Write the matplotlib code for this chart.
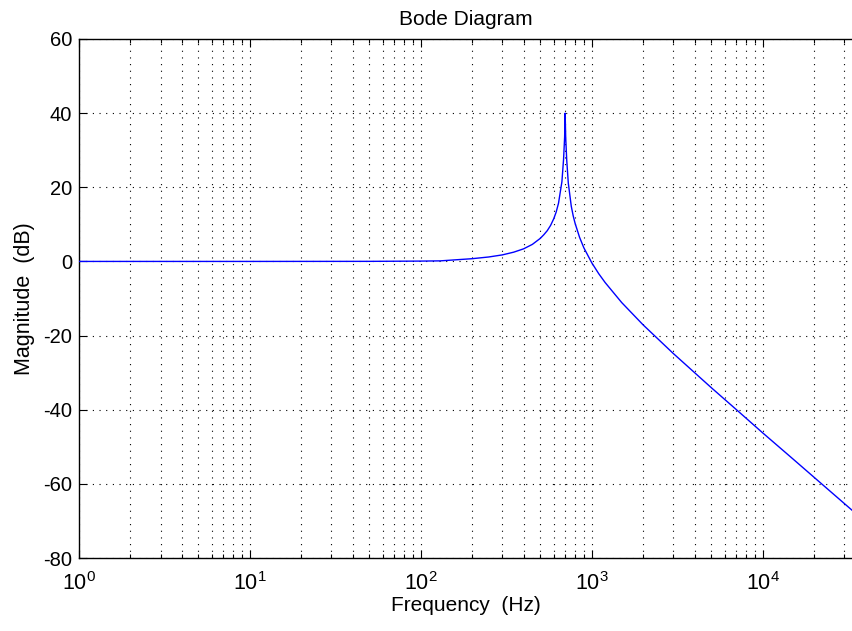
"""
Bode magnitude plot of a lightly damped second-order low-pass response.
"""

import matplotlib
matplotlib.use("Agg")
import matplotlib.pyplot as plt
from matplotlib.ticker import LogLocator, FixedLocator

plt.rcParams["font.family"] = ["Liberation Sans", "DejaVu Sans"]
plt.rcParams["mathtext.fontset"] = "custom"
plt.rcParams["mathtext.rm"] = "Liberation Sans"
plt.rcParams["mathtext.it"] = "Liberation Sans"
plt.rcParams["mathtext.default"] = "regular"
plt.rcParams["axes.unicode_minus"] = False

# Magnitude response samples (Hz, dB)
freq_hz = [1, 10, 50, 100, 130, 200, 250, 300, 350, 400, 450, 500, 525, 550,
           575, 600, 620, 640, 670, 685, 695, 700, 705, 715, 730, 760, 780,
           800, 850, 900, 1000, 1100, 1200, 1500, 2000, 3000, 5000, 7000,
           10000, 15000, 20000, 33400]
mag_db = [0, 0, 0.02, 0.09, 0.15, 0.74, 1.2, 1.76, 2.5, 3.4, 4.6, 6.2, 7.2,
          8.3, 9.7, 11.5, 13.3, 15.7, 21.5, 27.5, 33.5, 40, 33.5, 27.3, 21.2,
          14.9, 12.3, 10.3, 6.5, 3.7, -0.3, -3.3, -5.7, -11.1, -17.1, -24.8,
          -34.0, -39.9, -46.2, -53.2, -58.2, -67.1]

y_ticks = [-80, -60, -40, -20, 0, 20, 40, 60]
x_limits = (1, 3.34e4)

TICK_SIZE = 14.5
TEXT_SIZE = 15
W, H = 852, 631

fig = plt.figure(figsize=(W / 100, H / 100), dpi=100)
ax = fig.add_axes([79 / W, (H - 558) / H, (852 - 79) / W, (558 - 39) / H])

ax.semilogx(freq_hz, mag_db, color="#0000ff", linewidth=1.0, zorder=3)

ax.set_xlim(*x_limits)
ax.set_ylim(y_ticks[0], y_ticks[-1])
ax.yaxis.set_major_locator(FixedLocator(y_ticks))
ax.xaxis.set_major_locator(LogLocator(base=10, numticks=10))
ax.xaxis.set_minor_locator(LogLocator(base=10, subs=range(2, 10), numticks=20))

grid_style = dict(color="black", linestyle=(0, (1, 5)), linewidth=0.8)
ax.grid(True, which="major", axis="both", **grid_style)
ax.grid(True, which="minor", axis="x", **grid_style)

ax.tick_params(which="major", direction="in", length=5.8, width=0.8,
               top=True, right=False, labelsize=TICK_SIZE, pad=5)
ax.tick_params(which="minor", direction="in", length=3, width=0.8,
               top=True, right=False)
ax.tick_params(axis="x", which="major", pad=10, labelsize=15.5)

for side in ("left", "bottom", "top"):
    ax.spines[side].set_linewidth(1.0)
ax.spines["right"].set_visible(False)

ax.set_title("Bode Diagram", fontsize=TEXT_SIZE, pad=10)
ax.set_xlabel("Frequency  (Hz)", fontsize=TEXT_SIZE, labelpad=1)
ax.set_ylabel("Magnitude  (dB)", fontsize=15.5, labelpad=6)

fig.savefig("out.png", dpi=100)
